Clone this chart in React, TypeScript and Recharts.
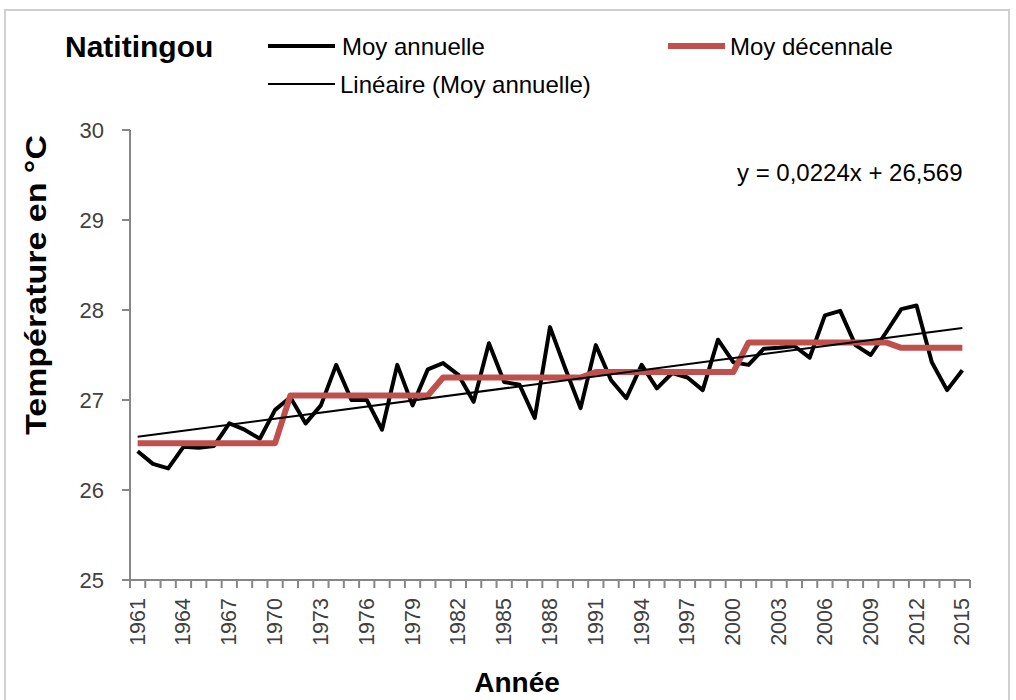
import React from 'react';
import { LineChart, Line, XAxis, YAxis, ReferenceLine } from 'recharts';

// Natitingou - yearly mean temperature (°C)
const years = [
  1961, 1962, 1963, 1964, 1965, 1966, 1967, 1968, 1969, 1970,
  1971, 1972, 1973, 1974, 1975, 1976, 1977, 1978, 1979, 1980,
  1981, 1982, 1983, 1984, 1985, 1986, 1987, 1988, 1989, 1990,
  1991, 1992, 1993, 1994, 1995, 1996, 1997, 1998, 1999, 2000,
  2001, 2002, 2003, 2004, 2005, 2006, 2007, 2008, 2009, 2010,
  2011, 2012, 2013, 2014, 2015,
];

const annualMean = [
  26.43, 26.29, 26.24, 26.48, 26.47, 26.49, 26.74, 26.67, 26.57, 26.89,
  27.03, 26.74, 26.94, 27.39, 27.0, 27.0, 26.67, 27.39, 26.94, 27.34,
  27.41, 27.28, 26.98, 27.63, 27.2, 27.17, 26.8, 27.81, 27.35, 26.91,
  27.61, 27.22, 27.02, 27.39, 27.13, 27.3, 27.25, 27.11, 27.67, 27.42,
  27.39, 27.57, 27.58, 27.6, 27.47, 27.94, 27.99, 27.61, 27.5, 27.75,
  28.01, 28.05, 27.42, 27.11, 27.33,
];

const decadeStarts = [1961, 1971, 1981, 1991, 2001, 2011];
const decadalMean = [26.52, 27.05, 27.25, 27.31, 27.64, 27.58];

const yTicks = [25, 26, 27, 28, 29, 30];
const labelYears = [
  1961, 1964, 1967, 1970, 1973, 1976, 1979, 1982, 1985, 1988,
  1991, 1994, 1997, 2000, 2003, 2006, 2009, 2012, 2015,
];

// trendline shown on the chart: y = 0,0224x + 26,569 (x = 1 for 1961)
const trendSlope = 0.0224;
const trendIntercept = 26.569;

const data = years.map((year, i) => ({
  year,
  annual: annualMean[i],
  decadal: decadalMean[decadeStarts.filter((s) => s <= year).length - 1],
}));

// tick marks sit between the years, like Excel
const minorTicks = [...years.map((y) => y - 0.5), years[years.length - 1] + 0.5];

const trendStart = trendIntercept + trendSlope * 1;
const trendEnd = trendIntercept + trendSlope * years.length;

const W = 1016;
const H = 700;
const PLOT_LEFT = 130;
const PLOT_RIGHT = 970;
const HALF_STEP = (PLOT_RIGHT - PLOT_LEFT) / years.length / 2;
const FONT = '"Liberation Sans", Arial, sans-serif';

const XTick = (props: any) => {
  const { x, y, payload } = props;
  const year = payload.value + 0.5;
  if (!labelYears.includes(year)) return <g />;
  return (
    <text
      transform={`translate(${x + HALF_STEP},${y + 8}) rotate(-90)`}
      textAnchor="end"
      dominantBaseline="central"
      fontSize={21.5}
      fontFamily={FONT}
      fill="#404040"
    >
      {year}
    </text>
  );
};

const Overlay = () => (
  <svg
    width={W}
    height={H}
    style={{ position: 'absolute', left: 0, top: 0, pointerEvents: 'none' }}
    fontFamily={FONT}
  >
    <rect x={5} y={10} width={1004} height={710} fill="none" stroke="#d0d0d0" strokeWidth={2} />
    <text x={65} y={57} fontSize={30} fontWeight="bold" fill="#000">Natitingou</text>

    <line x1={268} y1={46} x2={335} y2={46} stroke="#000" strokeWidth={4} />
    <text x={342} y={55} fontSize={24} fill="#000">Moy annuelle</text>
    <line x1={668} y1={46} x2={725} y2={46} stroke="#c0504d" strokeWidth={6} />
    <text x={730} y={55} fontSize={24} fill="#000">Moy décennale</text>
    <line x1={268} y1={84} x2={335} y2={84} stroke="#000" strokeWidth={2} />
    <text x={340} y={93} fontSize={24} fill="#000">Linéaire (Moy annuelle)</text>

    <text x={737} y={181} fontSize={24} fill="#000">y = 0,0224x + 26,569</text>

    <text
      transform="translate(46,285) rotate(-90)"
      textAnchor="middle"
      fontSize={29}
      fontWeight="bold"
      fill="#000"
      textLength={300}
      lengthAdjust="spacingAndGlyphs"
    >
      Température en °C
    </text>
    <text x={517} y={692} textAnchor="middle" fontSize={28} fontWeight="bold" fill="#000">
      Année
    </text>
  </svg>
);

export default function App() {
  return (
    <div style={{ position: 'absolute', left: 0, top: 0, width: W, height: H, background: '#fff' }}>
      <LineChart
        width={W}
        height={H}
        data={data}
        margin={{ top: 130, right: W - PLOT_RIGHT, bottom: 0, left: 0 }}
      >
        <XAxis
          dataKey="year"
          type="number"
          domain={[years[0] - 0.5, years[years.length - 1] + 0.5]}
          ticks={minorTicks}
          interval={0}
          height={120}
          tick={<XTick />}
          tickSize={8}
          tickLine={{ stroke: '#868686', strokeWidth: 2 }}
          axisLine={{ stroke: '#868686', strokeWidth: 2 }}
        />
        <YAxis
          domain={[25, 30]}
          ticks={yTicks}
          width={PLOT_LEFT}
          tickSize={8}
          tickMargin={18}
          tick={{ fontSize: 22, fill: '#404040', fontFamily: FONT }}
          tickLine={{ stroke: '#868686', strokeWidth: 2 }}
          axisLine={{ stroke: '#868686', strokeWidth: 2 }}
        />
        <Line
          dataKey="annual"
          stroke="#000"
          strokeWidth={4}
          dot={false}
          strokeLinejoin="round"
          isAnimationActive={false}
        />
        <Line
          dataKey="decadal"
          stroke="#c0504d"
          strokeWidth={6}
          dot={false}
          strokeLinejoin="round"
          isAnimationActive={false}
        />
        <ReferenceLine
          segment={[
            { x: years[0], y: trendStart },
            { x: years[years.length - 1], y: trendEnd },
          ]}
          stroke="#000"
          strokeWidth={2}
        />
      </LineChart>
      <Overlay />
    </div>
  );
}
